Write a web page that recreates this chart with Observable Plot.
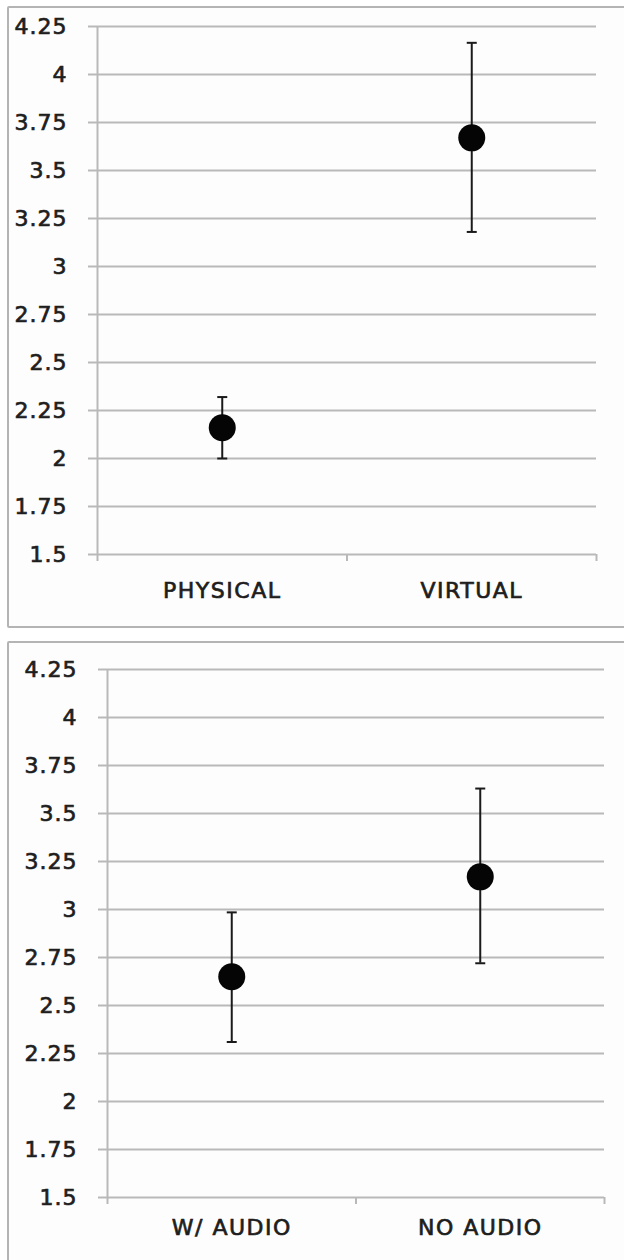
<!DOCTYPE html>
<html>
<head>
<meta charset="utf-8">
<script src="https://cdn.jsdelivr.net/npm/d3@7"></script>
<script src="https://cdn.jsdelivr.net/npm/@observablehq/plot@0.6"></script>
<style>
  html, body { margin: 0; padding: 0; background: #ffffff; overflow: hidden; width: 624px; height: 1260px; }
  .frame { position: absolute; border: 2px solid #b4b4b4; border-radius: 2px; background: #fdfdfd; box-sizing: border-box; }
  .chart { position: absolute; left: 0; }
</style>
</head>
<body>
<div class="frame" style="left:7px; top:6px; width:700px; height:622px;"></div>
<div class="frame" style="left:7px; top:641px; width:700px; height:700px;"></div>
<div id="top" class="chart" style="top:0px;"></div>
<div id="bottom" class="chart" style="top:643px;"></div>
<script>
// ---- data ----
const yTicks = [1.5, 1.75, 2, 2.25, 2.5, 2.75, 3, 3.25, 3.5, 3.75, 4, 4.25];

const catsTop = ["PHYSICAL", "VIRTUAL"];
const meanTop = [2.16, 3.67];
const lowTop = [2.0, 3.18];
const highTop = [2.32, 4.165];

const catsBottom = ["W/ AUDIO", "NO AUDIO"];
const meanBottom = [2.65, 3.17];
const lowBottom = [2.31, 2.72];
const highBottom = [2.985, 3.63];

// ---- helpers ----
const capSymbol = {
  draw(ctx, size) {
    const w = Math.sqrt(size / Math.PI);
    ctx.moveTo(-w, 0);
    ctx.lineTo(w, 0);
  }
};

const gridColor = "#b9b9b9";
const font = "'DejaVu Sans', sans-serif";
const textColor = "#1e1e1e";

function panel(cats, mean, low, high, o) {
  const rows = cats.map((c, i) => ({pos: i + 0.5, cat: c, mean: mean[i], low: low[i], high: high[i]}));
  const bounds = d3.range(cats.length + 1);
  const svg = Plot.plot({
    width: 624,
    height: o.height,
    marginLeft: o.marginLeft,
    marginRight: o.marginRight,
    marginTop: o.marginTop,
    marginBottom: o.marginBottom,
    style: {background: "transparent", overflow: "visible", fontFamily: font, fontSize: "22px", color: textColor},
    x: {domain: [0, cats.length]},
    y: {domain: [yTicks[0], yTicks[yTicks.length - 1]]},
    marks: [
      Plot.gridY(yTicks, {stroke: gridColor, strokeOpacity: 1, strokeWidth: 2}),
      Plot.axisY({ticks: yTicks, tickSize: 9, tickPadding: 21, tickFormat: d => String(d), stroke: gridColor, strokeWidth: 2, fill: textColor, fontSize: 22, label: null}),
      Plot.ruleX([0], {y1: yTicks[0], y2: yTicks[yTicks.length - 1], stroke: gridColor, strokeWidth: 2}),
      Plot.axisX({ticks: bounds, tickSize: 7, tickFormat: () => "", stroke: gridColor, strokeWidth: 2, label: null}),
      Plot.axisX({ticks: rows.map(d => d.pos), tickSize: 0, tickPadding: o.labelPad, tickFormat: (d) => cats[Math.floor(d)], fill: textColor, fontSize: 22, label: null}),
      Plot.ruleX(rows, {x: "pos", y1: "low", y2: "high", stroke: "#1a1a1a", strokeWidth: 2}),
      Plot.dot(rows, {x: "pos", y: "low", symbol: capSymbol, r: 5, stroke: "#1a1a1a", fill: "none", strokeWidth: 2}),
      Plot.dot(rows, {x: "pos", y: "high", symbol: capSymbol, r: 5, stroke: "#1a1a1a", fill: "none", strokeWidth: 2}),
      Plot.dot(rows, {x: "pos", y: "mean", r: 13.5, fill: "#050505", stroke: "none"})
    ]
  });
  // widen and darken the label text to match the stretched original lettering
  d3.select(svg).selectAll("g[aria-label='y-axis tick label'] text")
    .style("letter-spacing", "1px").attr("stroke", textColor).attr("stroke-width", 0.7);
  d3.select(svg).selectAll("g[aria-label='x-axis tick label'] text")
    .style("letter-spacing", "1.5px").attr("stroke", textColor).attr("stroke-width", 0.7);
  return svg;
}

document.getElementById("top").append(panel(catsTop, meanTop, lowTop, highTop, {
  height: 627, marginLeft: 97, marginRight: 28, marginTop: 26, marginBottom: 73, labelPad: 28
}));
document.getElementById("bottom").append(panel(catsBottom, meanBottom, lowBottom, highBottom, {
  height: 617, marginLeft: 107, marginRight: 20, marginTop: 26, marginBottom: 63, labelPad: 22
}));
</script>
</body>
</html>
